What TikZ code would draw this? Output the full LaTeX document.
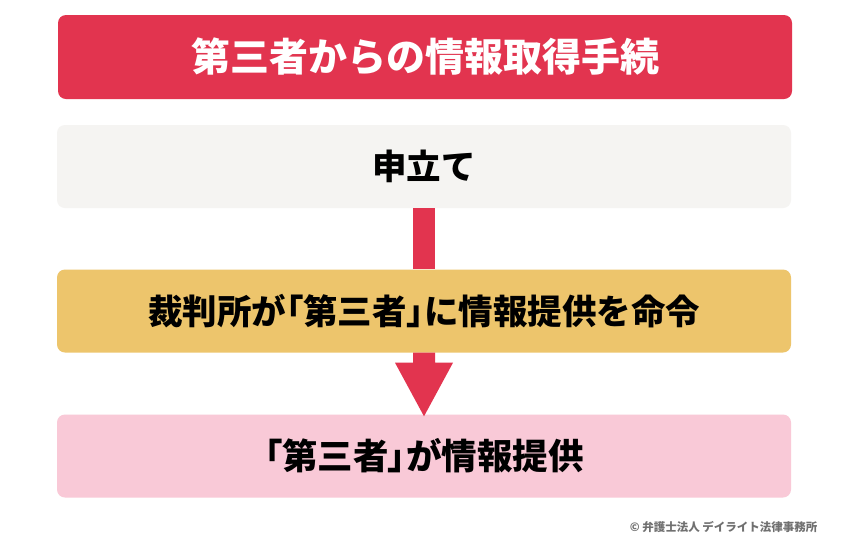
\documentclass[tikz,border=0pt]{standalone}
\usepackage{fontspec}
\newfontfamily\cjk{Noto Sans CJK JP}
\newfontfamily\cjkp[RawFeature=+palt]{Noto Sans CJK JP}
\newcommand{\lbr}{{\cjkp\bfseries 「}}
\newcommand{\rbr}{{\cjkp\bfseries 」}}
\definecolor{titlered}{HTML}{E2344F}
\definecolor{boxgray}{HTML}{F5F4F2}
\definecolor{boxyellow}{HTML}{EDC56C}
\definecolor{boxpink}{HTML}{F9C9D7}
\definecolor{arrowred}{HTML}{E2344F}
\definecolor{copygray}{HTML}{707070}
\begin{document}
\begin{tikzpicture}[x=1pt,y=-1pt,
  stagebox/.style={rounded corners=8pt,minimum width=734pt,minimum height=83pt,inner sep=0pt,font=\cjk\bfseries\fontsize{34.5}{38}\selectfont},
  arrowfill/.style={fill=arrowred,draw=none}]
\useasboundingbox[fill=white] (0,0) rectangle (851,550);
\node[stagebox,fill=titlered,text=white,minimum height=84pt,font=\cjk\bfseries\fontsize{39}{42}\selectfont] (t) at (425,57) {第三者からの情報取得手続};
\node[stagebox,fill=boxgray,text=black] (a) at (424,166.5) {申立て};
\node[stagebox,fill=boxyellow,text=black] (b) at (424,311) {裁判所が\lbr 第三者\rbr に情報提供を命令};
\node[stagebox,fill=boxpink,text=black,font=\cjk\bfseries\fontsize{35.5}{38}\selectfont] (c) at (424,456) {\lbr 第三者\rbr が情報提供};
\node[font=\cjk\bfseries\fontsize{11.5}{13}\selectfont,text=copygray,anchor=east] (cr) at (821,527) {© 弁護士法人 デイライト法律事務所};
% arrow 1
\fill[arrowfill] ([xshift=-11pt]a.south) rectangle ([xshift=11pt]b.north);
% arrow 2
\fill[arrowfill] ([xshift=-11pt]b.south) -- ([xshift=-11pt,yshift=-10pt]b.south) -- ([xshift=-29pt,yshift=-10pt]b.south)
  -- ([yshift=-2pt]c.north) -- ([xshift=29pt,yshift=-10pt]b.south) -- ([xshift=11pt,yshift=-10pt]b.south) -- ([xshift=11pt]b.south) -- cycle;
\end{tikzpicture}
\end{document}
